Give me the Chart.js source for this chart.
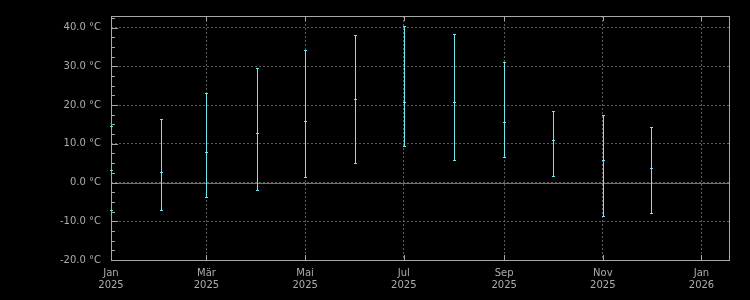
<!DOCTYPE html>
<html>
<head>
<meta charset="utf-8">
<script src="https://cdn.jsdelivr.net/npm/chart.js@4/dist/chart.umd.min.js"></script>
<style>
  html, body { margin: 0; padding: 0; background: #000; }
  #wrap { width: 750px; height: 300px; }
</style>
</head>
<body>
<div id="wrap"><canvas id="chart" width="750" height="300"></canvas></div>
<script>
// days since 1 Jan 2025, one bar per month (1st of month)
var monthDays = [0, 31, 59, 90, 120, 151, 181, 212, 243, 273, 304, 334];
var tempMax  = [14.7, 16.4, 23.1, 29.7, 34.1, 38.1, 40.4, 38.4, 31.2, 18.5, 17.5, 14.4];
var tempMean = [3.2, 2.7, 8.0, 12.9, 15.9, 21.5, 20.8, 20.8, 15.7, 11.1, 5.7, 3.7];
var tempMin  = [-7.1, -7.0, -3.7, -1.9, 1.4, 5.0, 9.5, 5.7, 6.5, 1.6, -8.6, -7.8];

var tickDays = [0, 59, 120, 181, 243, 304, 365];
var tickLabels = [['Jan', '2025'], ['Mär', '2025'], ['Mai', '2025'], ['Jul', '2025'], ['Sep', '2025'], ['Nov', '2025'], ['Jan', '2026']];
var tempTicks = [-20, -10, 0, 10, 20, 30, 40];

var barColor = '#6fe6f0';
var frameColor = '#a8a8a8';
var textColor = '#acacac';

// whiskers with caps, zero line, frame and inward ticks
var decor = {
  id: 'decor',
  beforeDatasetsDraw: function (chart) {
    var ctx = chart.ctx, a = chart.chartArea, y = chart.scales.y;
    var y0 = Math.round(y.getPixelForValue(0));
    ctx.save();
    ctx.fillStyle = '#2d86bf';
    ctx.fillRect(a.left, y0, a.right - a.left, 1);
    ctx.restore();
  },
  afterDatasetsDraw: function (chart) {
    var ctx = chart.ctx, a = chart.chartArea, xs = chart.scales.x, ys = chart.scales.y;
    var L = Math.round(a.left), R = Math.round(a.right), T = Math.round(a.top), B = Math.round(a.bottom);
    ctx.save();
    // frame
    ctx.fillStyle = frameColor;
    ctx.fillRect(L, T, R - L + 1, 1);
    ctx.fillRect(L, B, R - L + 1, 1);
    ctx.fillRect(L, T, 1, B - T + 1);
    ctx.fillRect(R, T, 1, B - T + 1);
    // y ticks, inward on left side
    for (var v = -20; v <= ys.max; v += 2.5) {
      var py = Math.round(ys.getPixelForValue(v));
      var len = (Math.abs(v % 10) < 0.001) ? 6 : 3;
      ctx.fillRect(L, py, len + 1, 1);
    }
    // x ticks, inward on top and bottom
    tickDays.forEach(function (d) {
      var px = Math.round(xs.getPixelForValue(d));
      ctx.fillRect(px, B - 5, 1, 5);
      ctx.fillRect(px, T, 1, 5);
    });
    // whiskers
    ctx.fillStyle = barColor;
    for (var i = 0; i < monthDays.length; i++) {
      var px = Math.round(xs.getPixelForValue(monthDays[i]));
      var top = Math.round(ys.getPixelForValue(tempMax[i]));
      var bot = Math.round(ys.getPixelForValue(tempMin[i]));
      var mid = Math.round(ys.getPixelForValue(tempMean[i]));
      if (px > L) ctx.fillRect(px, top, 1, bot - top + 1);
      ctx.fillRect(px - 1, top, 3, 1);
      ctx.fillRect(px - 1, bot, 3, 1);
      ctx.fillRect(px - 1, mid, 3, 1);
    }
    ctx.restore();
  }
};

new Chart(document.getElementById('chart'), {
  type: 'scatter',
  data: {
    datasets: [{
      label: 'Mittel',
      data: monthDays.map(function (d, i) { return { x: d, y: tempMean[i] }; }),
      pointRadius: 0,
      borderColor: barColor,
      backgroundColor: barColor
    }]
  },
  options: {
    responsive: false,
    animation: false,
    layout: { padding: { left: 0, top: 13, right: 21, bottom: 0 } },
    plugins: {
      legend: { display: false },
      tooltip: { enabled: false }
    },
    scales: {
      x: {
        type: 'linear',
        min: 0,
        max: 382,
        afterBuildTicks: function (scale) {
          scale.ticks = tickDays.map(function (d) { return { value: d }; });
        },
        afterFit: function (scale) { scale.height = 40; },
        ticks: {
          autoSkip: false,
          maxRotation: 0,
          padding: 7,
          color: textColor,
          font: { family: 'DejaVu Sans', size: 10 },
          callback: function (value) {
            var i = tickDays.indexOf(value);
            return i >= 0 ? tickLabels[i] : '';
          }
        },
        grid: { color: '#5c5c5c', lineWidth: 1, drawTicks: false },
        border: { display: false, dash: [2, 2] }
      },
      y: {
        min: -20,
        max: 43,
        afterBuildTicks: function (scale) {
          scale.ticks = tempTicks.map(function (v) { return { value: v }; });
        },
        afterFit: function (scale) { scale.width = 111; },
        ticks: {
          autoSkip: false,
          padding: 10,
          color: textColor,
          font: { family: 'DejaVu Sans', size: 10 },
          callback: function (value) { return value.toFixed(1) + ' °C'; }
        },
        grid: { color: '#5c5c5c', lineWidth: 1, drawTicks: false },
        border: { display: false, dash: [2, 2] }
      }
    }
  },
  plugins: [decor]
});
</script>
</body>
</html>
